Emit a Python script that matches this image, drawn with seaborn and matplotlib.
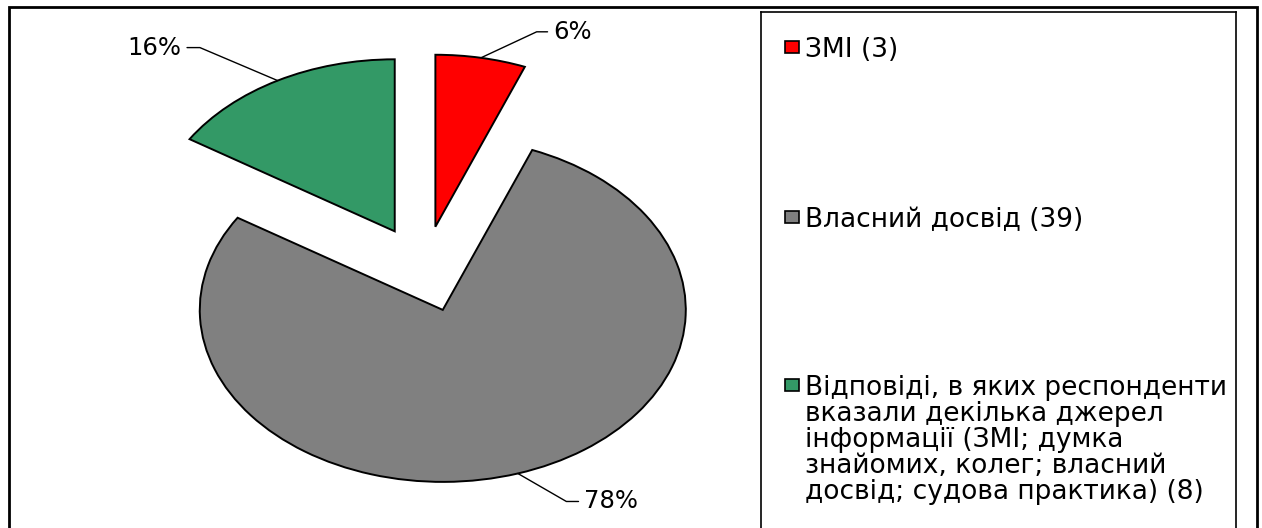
import numpy as np
import matplotlib
matplotlib.use("Agg")
import matplotlib.pyplot as plt
from matplotlib.patches import Rectangle
import seaborn as sns

# data
sources = [
    "ЗМІ",
    "Власний досвід",
    "Відповіді, в яких респонденти\nвказали декілька джерел\nінформації (ЗМІ; думка\n"
    "знайомих, колег; власний\nдосвід; судова практика)",
]
counts = [3, 39, 8]
colors = ["#FF0000", "#808080", "#339966"]

# label placement (pixels from the arc point) and leader elbow angle
label_offsets = [(72, 26), (66, -28), (-96, 33)]
elbow_angles = [25, -30, 157]

sns.set_theme(style="white")
plt.rcParams["font.family"] = ["DejaVu Sans"]
plt.rcParams["text.color"] = "black"

W, H = 1262, 528
fig = plt.figure(figsize=(W / 100, H / 100), dpi=100)
fig.patch.set_facecolor("white")

# pie: stretched ellipse, centre/radii in pixels
pie_w = 760
cx, cy, rx, ry = 424, 269, 243, 172
ax = fig.add_axes([0, 0, pie_w / W, 1])
wedges, _ = ax.pie(counts, colors=colors, startangle=90, counterclock=False,
                   explode=[0.25] * len(counts),
                   wedgeprops=dict(edgecolor="black", linewidth=1.4))
ax.set_aspect("auto")
ax.set_xlim(-cx / rx, (pie_w - cx) / rx)
ax.set_ylim((cy - H) / ry, cy / ry)
ax.axis("off")

total = sum(counts)
for w, c, (dx, dy), ang_b in zip(wedges, counts, label_offsets, elbow_angles):
    mid = np.deg2rad((w.theta1 + w.theta2) / 2)
    x = w.center[0] + w.r * np.cos(mid)
    y = w.center[1] + w.r * np.sin(mid)
    right = dx > 0
    ax.annotate(f"{c / total * 100:.0f}%", xy=(x, y),
                xytext=(dx * 0.72, dy * 0.72), textcoords="offset points",
                ha="left" if right else "right", va="center",
                fontsize=17.5, color="black", annotation_clip=False,
                arrowprops=dict(arrowstyle="-", color="black", lw=1.0,
                                shrinkA=1.5, shrinkB=0,
                                relpos=(0 if right else 1, 0.5),
                                connectionstyle=f"angle,angleA=0,angleB={ang_b},rad=0"))

# legend box (axes in pixel units)
lg = fig.add_axes([761 / W, -12 / H, (1236 - 761) / W, 1.0])
lg.set_xlim(761, 1236)
lg.set_ylim(540, 12)
lg.set_xticks([])
lg.set_yticks([])
for s in lg.spines.values():
    s.set_color("black")
    s.set_linewidth(1.2)
    s.set_visible(True)

rows = [47, 217, 385]
for y, name, c, col in zip(rows, sources, counts, colors):
    lg.add_patch(Rectangle((785, y - 6), 14, 12, facecolor=col,
                           edgecolor="black", lw=1.2))
    lg.text(805, y - 10, f"{name} ({c})", va="top", ha="left",
            fontsize=19, linespacing=1.0, color="black")

# outer chart border
fig.add_artist(Rectangle((9 / W, -0.05), (1257 - 9) / W, 1 - 7 / H + 0.05,
                         transform=fig.transFigure, fill=False,
                         edgecolor="black", lw=2))

fig.savefig("out.png", dpi=100, facecolor="white")
